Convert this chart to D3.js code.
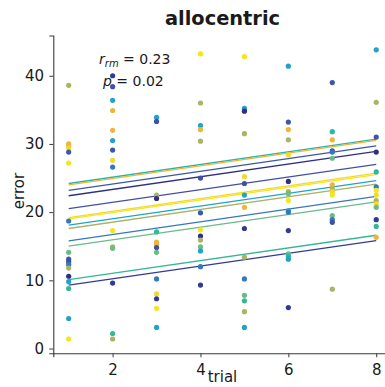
<!DOCTYPE html>
<html>
<head>
<meta charset="utf-8">
<script src="https://cdn.jsdelivr.net/npm/d3@7"></script>
<style>
  html, body { margin: 0; padding: 0; background: #fff; overflow: hidden; }
  text { font-family: "DejaVu Sans", sans-serif; fill: #1a1a1a; }
</style>
</head>
<body>
<svg id="chart" width="385" height="387"></svg>
<script>
// ---- data ----
var trialTicks = [2, 4, 6, 8];
var errorTicks = [0, 10, 20, 30, 40];

// one colour per subject
var subjectColors = [
    '#2e2f85', '#323b93', '#3a57a9', '#4150a6', '#3479bd', '#21a3c9', '#2bb4a8',
    '#35b796', '#6abb87', '#a9b466', '#eeb53c', '#f2d92a', '#f6e41c'
];
// fitted line value at trial 1 for each subject (common slope)
var lineStart = [22.4, 9.3, 23.2, 20.5, 15.8, 18.1, 24.2, 10.1, 15.0, 17.6, 24.0, 19.2, 19.0];
var slope = 0.93;
var firstTrial = 1, lastTrial = 8;

// [trial, error, subject]
var points = [
    [1, 38.6, 9], [1, 30.0, 10], [1, 29.7, 10], [1, 29.4, 11], [1, 28.8, 2], [1, 27.2, 12],
    [1, 18.7, 4], [1, 14.1, 8], [1, 13.1, 2], [1, 12.7, 3], [1, 12.3, 4], [1, 11.8, 9],
    [1, 10.6, 0], [1, 9.8, 5], [1, 8.8, 7], [1, 4.4, 5], [1, 1.4, 12],
    [2, 40.0, 1], [2, 38.4, 3], [2, 36.4, 5], [2, 34.9, 10], [2, 32.0, 10], [2, 30.5, 5],
    [2, 29.1, 2], [2, 27.6, 11], [2, 26.6, 4], [2, 17.3, 12], [2, 14.9, 9], [2, 14.7, 8],
    [2, 9.6, 1], [2, 2.2, 7], [2, 1.4, 9],
    [3, 33.9, 5], [3, 33.3, 3], [3, 22.5, 9], [3, 22.0, 0], [3, 17.1, 7], [3, 15.6, 10],
    [3, 15.3, 10], [3, 14.8, 3], [3, 14.1, 8], [3, 10.2, 4], [3, 8.0, 11], [3, 7.3, 1],
    [3, 5.9, 12], [3, 3.1, 5],
    [4, 43.2, 12], [4, 36.0, 9], [4, 32.7, 5], [4, 32.1, 10], [4, 30.4, 9], [4, 25.0, 3],
    [4, 19.9, 2], [4, 17.4, 12], [4, 16.5, 0], [4, 15.9, 9], [4, 14.9, 8], [4, 14.3, 5],
    [4, 12.0, 4], [4, 9.3, 1],
    [5, 42.8, 12], [5, 35.2, 5], [5, 34.8, 0], [5, 31.5, 9], [5, 25.2, 11], [5, 24.2, 3],
    [5, 22.5, 5], [5, 20.7, 10], [5, 17.6, 1], [5, 13.4, 9], [5, 10.2, 4], [5, 7.8, 8],
    [5, 7.0, 7], [5, 5.4, 9], [5, 3.1, 5],
    [6, 41.4, 5], [6, 33.2, 2], [6, 32.1, 10], [6, 30.6, 9], [6, 28.4, 11], [6, 24.5, 0],
    [6, 23.0, 9], [6, 22.7, 8], [6, 21.7, 12], [6, 20.2, 5], [6, 20.0, 4], [6, 17.3, 1],
    [6, 13.9, 8], [6, 13.5, 6], [6, 13.1, 5], [6, 6.0, 1],
    [7, 39.0, 2], [7, 31.8, 6], [7, 30.6, 10], [7, 29.0, 3], [7, 28.8, 4], [7, 27.9, 8],
    [7, 24.0, 10], [7, 23.4, 9], [7, 23.0, 11], [7, 22.5, 12], [7, 19.5, 8], [7, 18.9, 4],
    [7, 18.5, 3], [7, 8.7, 9],
    [8, 43.8, 5], [8, 36.1, 9], [8, 31.0, 2], [8, 28.8, 0], [8, 25.9, 6], [8, 23.7, 4],
    [8, 23.2, 12], [8, 22.5, 11], [8, 21.7, 9], [8, 21.2, 11], [8, 20.7, 8], [8, 18.9, 1],
    [8, 17.9, 7], [8, 16.3, 10]
];

// ---- layout ----
var svg = d3.select('#chart');

var x = d3.scaleLinear().domain([0.65, 8.35]).range([53.3, 391.6]);
var y = d3.scaleLinear().domain([-0.7, 45.9]).range([353.3, 35.5]);

// axes (left + bottom spines only)
var xAxis = svg.append('g')
    .attr('transform', 'translate(0,' + y.range()[0] + ')')
    .call(d3.axisBottom(x).tickValues(trialTicks).tickFormat(d3.format('d')).tickSizeOuter(0).tickSize(4));
var yAxis = svg.append('g')
    .attr('transform', 'translate(' + x.range()[0] + ',0)')
    .call(d3.axisLeft(y).tickValues(errorTicks).tickFormat(d3.format('d')).tickSizeOuter(0).tickSize(4));

[xAxis, yAxis].forEach(function(a) {
    a.select('.domain').attr('stroke', '#3a3a3a').attr('stroke-width', 1.1);
    a.selectAll('.tick line').attr('stroke', '#3a3a3a');
    a.selectAll('.tick text').attr('font-size', 15).attr('fill', '#1a1a1a')
        .style('font-family', '"DejaVu Sans", sans-serif');
});
xAxis.selectAll('.tick text').attr('dy', '1.0em');
yAxis.selectAll('.tick text').attr('dx', '-0.15em');

// regression lines, one per subject
var lines = svg.append('g');
lineStart.forEach(function(v, i) {
    lines.append('line')
        .attr('x1', x(firstTrial)).attr('y1', y(v))
        .attr('x2', x(lastTrial)).attr('y2', y(v + slope * (lastTrial - firstTrial)))
        .attr('stroke', subjectColors[i])
        .attr('stroke-width', 1.3);
});

// points
svg.append('g').selectAll('circle')
    .data(points)
    .join('circle')
    .attr('cx', function(d) { return x(d[0]); })
    .attr('cy', function(d) { return y(d[1]); })
    .attr('r', 2.6)
    .attr('fill', function(d) { return subjectColors[d[2]]; });

// title and labels
svg.append('text')
    .attr('x', 222.5).attr('y', 25)
    .attr('text-anchor', 'middle')
    .attr('font-size', 19.4).attr('font-weight', 'bold')
    .text('allocentric');

svg.append('text')
    .attr('x', 222.5).attr('y', 382)
    .attr('text-anchor', 'middle')
    .attr('font-size', 15)
    .text('trial');

svg.append('text')
    .attr('transform', 'translate(24,191) rotate(-90)')
    .attr('text-anchor', 'middle')
    .attr('font-size', 15)
    .text('error');

// stats annotation
var r = svg.append('text').attr('x', 99).attr('y', 64).attr('font-size', 14);
r.append('tspan').attr('font-style', 'italic').text('r');
r.append('tspan').attr('font-style', 'italic').attr('font-size', 10).attr('dy', 3).text('rm');
r.append('tspan').attr('dy', -3).text(' = 0.23');

var p = svg.append('text').attr('x', 103).attr('y', 86).attr('font-size', 14);
p.append('tspan').attr('font-style', 'italic').text('p');
p.append('tspan').text(' = 0.02');
</script>
</body>
</html>
